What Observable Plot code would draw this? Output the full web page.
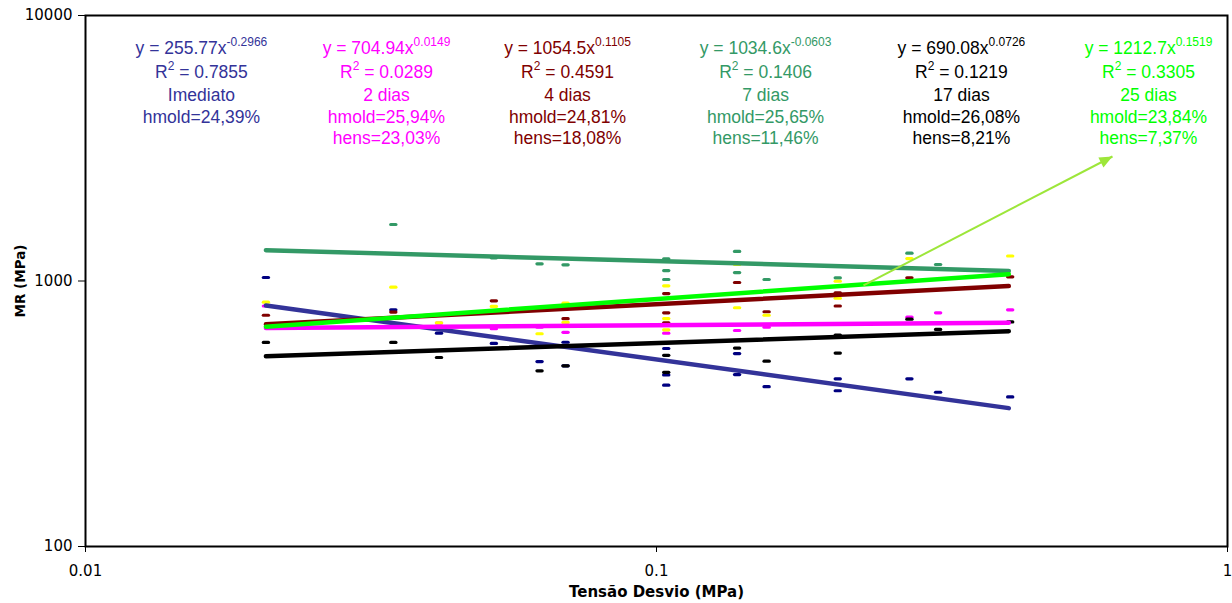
<!DOCTYPE html>
<html><head><meta charset="utf-8">
<script src="https://cdn.jsdelivr.net/npm/d3@7"></script>
<script src="https://cdn.jsdelivr.net/npm/@observablehq/plot@0.6"></script>
<style>
html,body{margin:0;padding:0;background:#fff}
#chart svg{display:block}
#chart svg g[aria-label*="axis"], #chart svg g[aria-label*="axis"] text{font-size:15px !important;font-family:'DejaVu Sans',sans-serif !important}
</style>
</head><body><div id="chart"></div>
<script>
// ---- data ----
const xTicks = [0.01, 0.1, 1];
const yTicks = [100, 1000, 10000];
const seriesNames = ["Imediato", "2 dias", "4 dias", "7 dias", "17 dias", "25 dias"];

const imediatoX  = [0.0207, 0.0346, 0.0416, 0.0519, 0.0624, 0.0693, 0.0693, 0.104, 0.104, 0.104, 0.1384, 0.1384, 0.1559, 0.2077, 0.2077, 0.2773, 0.3113, 0.4163];
const imediatoMR = [1031, 779, 636, 582, 497, 588, 479, 557, 443, 405, 533, 444, 400, 428, 386, 428, 381, 366];

const dias2X  = [0.0207, 0.0416, 0.0519, 0.0624, 0.0693, 0.104, 0.1384, 0.1559, 0.2773, 0.3113, 0.4163];
const dias2MR = [805, 694, 661, 670, 641, 636, 651, 670, 731, 759, 779];

const dias4X  = [0.0207, 0.0346, 0.0519, 0.0693, 0.104, 0.104, 0.104, 0.1384, 0.1559, 0.2077, 0.2077, 0.2773, 0.4163];
const dias4MR = [743, 764, 842, 721, 897, 759, 696, 987, 766, 903, 805, 1028, 1037];

const dias7X  = [0.0346, 0.0519, 0.0624, 0.0693, 0.104, 0.104, 0.104, 0.1384, 0.1384, 0.1559, 0.2077, 0.2773, 0.3113];
const dias7MR = [1632, 1223, 1161, 1151, 1212, 1095, 1013, 1292, 1076, 1013, 1028, 1273, 1154];

const dias17X  = [0.0207, 0.0346, 0.0416, 0.0624, 0.0693, 0.104, 0.104, 0.1384, 0.1559, 0.2077, 0.2077, 0.2773, 0.3113, 0.4163];
const dias17MR = [587, 587, 515, 459, 479, 525, 453, 559, 499, 626, 535, 718, 657, 701];

const dias25X  = [0.0207, 0.0346, 0.0416, 0.0519, 0.0624, 0.0693, 0.0693, 0.104, 0.104, 0.104, 0.1384, 0.1384, 0.1559, 0.2077, 0.2077, 0.2773, 0.4163];
const dias25MR = [832, 948, 696, 802, 633, 825, 698, 959, 722, 655, 1154, 793, 743, 998, 861, 1215, 1242];

// power-trendline end points
const trendX = [0.0207, 0.414];
const imediatoTrend = [808, 332];
const dias2Trend = [665, 696];
const dias4Trend = [687, 957];
const dias7Trend = [1307, 1091];
const dias17Trend = [521, 647];
const dias25Trend = [673, 1061];

const equations = ["y = 255.77x{-0.2966}", "y = 704.94x{0.0149}", "y = 1054.5x{0.1105}", "y = 1034.6x{-0.0603}", "y = 690.08x{0.0726}", "y = 1212.7x{0.1519}"];
const r2Labels = ["R{2} = 0.7855", "R{2} = 0.0289", "R{2} = 0.4591", "R{2} = 0.1406", "R{2} = 0.1219", "R{2} = 0.3305"];
const hmoldLabels = ["hmold=24,39%", "hmold=25,94%", "hmold=24,81%", "hmold=25,65%", "hmold=26,08%", "hmold=23,84%"];
const hensLabels = ["", "hens=23,03%", "hens=18,08%", "hens=11,46%", "hens=8,21%", "hens=7,37%"];

const arrowFrom = {x: 0.2304, y: 962};
const arrowTo = {x: 0.6288, y: 2944};

// ---- styling / layout ----
const pointColors = ["#000080", "#FF00FF", "#800000", "#339966", "#000000", "#FFFF00"];
const lineColors  = ["#333399", "#FF00FF", "#800000", "#339966", "#000000", "#00FF00"];
const textColors  = ["#333399", "#FF00FF", "#800000", "#339966", "#000000", "#00FF00"];
const blockX = [0.01596, 0.03366, 0.06985, 0.15523, 0.3420, 0.7272];
const lineDy = [33, 57, 80, 102, 123];
const annoFont = "'Liberation Sans', Arial, sans-serif";
const axisFont = "'DejaVu Sans', sans-serif";

const pointsX = [imediatoX, dias2X, dias4X, dias7X, dias17X, dias25X];
const pointsY = [imediatoMR, dias2MR, dias4MR, dias7MR, dias17MR, dias25MR];
const trends = [imediatoTrend, dias2Trend, dias4Trend, dias7Trend, dias17Trend, dias25Trend];

const dash = {draw(ctx) { ctx.moveTo(-2.6, -1.6); ctx.lineTo(2.6, -1.6); ctx.arc(2.6, 0, 1.6, -Math.PI/2, Math.PI/2); ctx.lineTo(-2.6, 1.6); ctx.arc(-2.6, 0, 1.6, Math.PI/2, 3*Math.PI/2); ctx.closePath(); }};
const head = {draw(ctx) { ctx.moveTo(0, 0); ctx.lineTo(-5.5, 13); ctx.lineTo(5.5, 13); ctx.closePath(); }};

const marks = [];
seriesNames.forEach((name, i) => {
  const pts = pointsX[i].map((x, k) => ({series: name, x, y: pointsY[i][k]}));
  marks.push(Plot.dot(pts, {x: "x", y: "y", symbol: dash, r: 3, fill: pointColors[i], stroke: "none"}));
});
seriesNames.forEach((name, i) => {
  const tl = trendX.map((x, k) => ({series: name, x, y: trends[i][k]}));
  marks.push(Plot.line(tl, {x: "x", y: "y", stroke: lineColors[i], strokeWidth: 4.5, strokeLinecap: "round"}));
});
// annotation blocks
seriesNames.forEach((name, i) => {
  const lines = [equations[i], r2Labels[i], name, hmoldLabels[i], hensLabels[i]];
  lines.forEach((t, j) => {
    if (!t) return;
    marks.push(Plot.text([t], {x: () => blockX[i], text: d => d, frameAnchor: "top", dy: lineDy[j],
      fill: textColors[i], fontSize: 17.5, fontFamily: annoFont, textAnchor: "middle", lineAnchor: "middle"}));
  });
});
// arrow
marks.push(Plot.link([{x1: arrowFrom.x, y1: arrowFrom.y, x2: arrowTo.x, y2: arrowTo.y}], {x1: "x1", y1: "y1", x2: "x2", y2: "y2", stroke: "#9de63a", strokeWidth: 2}));
marks.push(Plot.dot([arrowTo], {x: "x", y: "y", symbol: head, r: 5, fill: "#9de63a", stroke: "none", rotate: 62.5}));
// axis titles
marks.push(Plot.text(["MR (MPa)"], {frameAnchor: "left", dx: -65, rotate: -90, textAnchor: "middle", lineAnchor: "middle", fontWeight: "bold", fontSize: 13.5, fontFamily: axisFont, fill: "#000"}));
marks.push(Plot.text(["Tensão Desvio (MPa)"], {frameAnchor: "bottom", dy: 46, textAnchor: "middle", lineAnchor: "middle", fontWeight: "bold", fontSize: 15, fontFamily: axisFont, fill: "#000"}));
marks.push(Plot.frame({stroke: "#000", strokeWidth: 2}));

const plot = Plot.plot({
  width: 1232, height: 603,
  marginLeft: 85, marginRight: 5, marginTop: 15, marginBottom: 57,
  style: {fontFamily: axisFont, fontSize: "15px", background: "#fff", color: "#000"},
  x: {type: "log", domain: [0.01, 1], ticks: xTicks, tickFormat: d => String(d), tickSize: 6, tickPadding: 13, label: null},
  y: {type: "log", domain: [100, 10000], ticks: yTicks, tickFormat: d => String(d), tickSize: 7, tickPadding: 6, label: null},
  marks
});

// superscripts: segments in {} become raised smaller tspans
d3.select(plot).selectAll("text").each(function() {
  const el = d3.select(this);
  const s = this.textContent;
  if (!s.includes("{")) return;
  el.text(null);
  let raised = false;
  s.split(/(\{[^}]*\})/).filter(p => p.length).forEach(p => {
    if (p.startsWith("{")) {
      el.append("tspan").attr("dy", raised ? 0 : -8).attr("font-size", 12).text(p.slice(1, -1));
      raised = true;
    } else {
      const t = el.append("tspan").text(p);
      if (raised) { t.attr("dy", 8); raised = false; }
    }
  });
});

document.getElementById("chart").appendChild(plot);
</script></body></html>
